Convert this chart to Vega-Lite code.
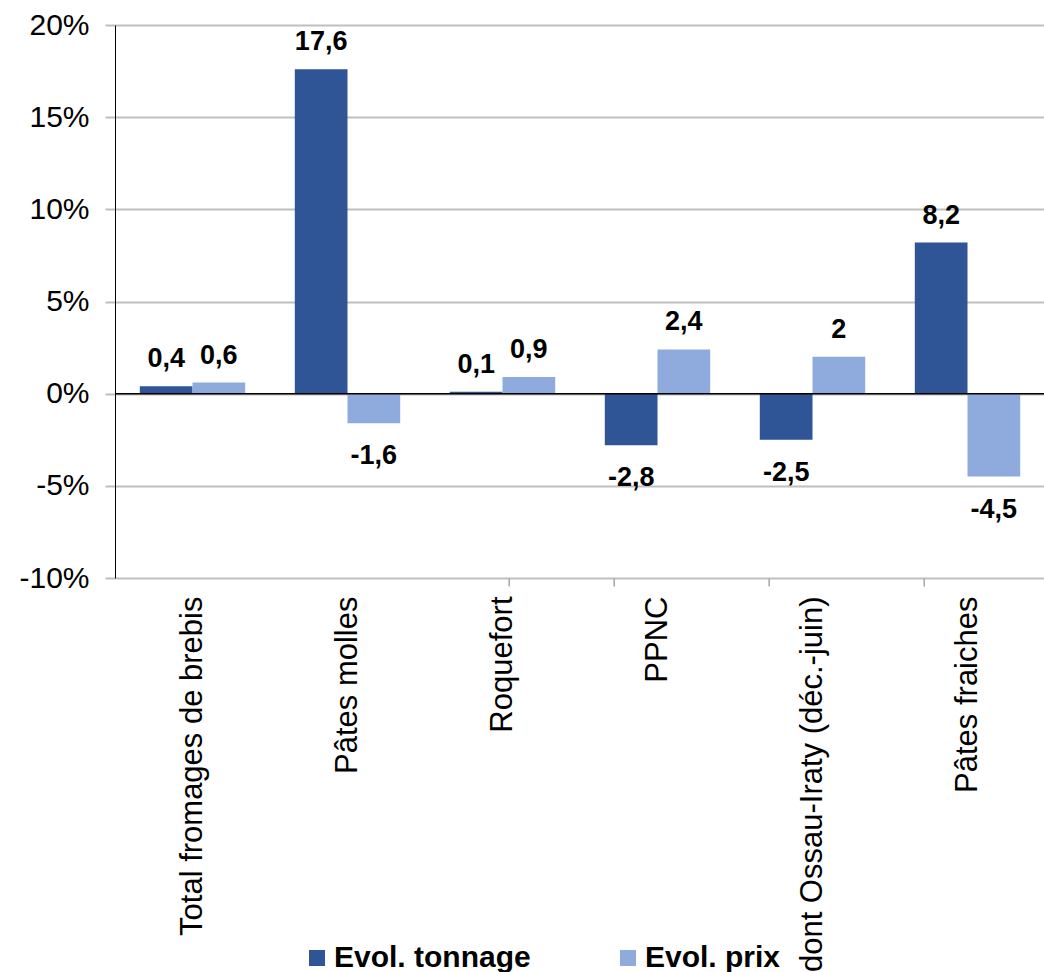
{
  "$schema": "https://vega.github.io/schema/vega-lite/v6.json",
  "width": 930,
  "height": 553,
  "autosize": {"type": "none"},
  "padding": {"left": 115, "top": 25, "right": 0, "bottom": 394},
  "background": "white",
  "config": {
    "locale": {"number": {"decimal": ",", "thousands": " ", "grouping": [3], "currency": ["", ""], "minus": "-", "percent": "%"}},
    "view": {"stroke": null},
    "font": "Liberation Sans"
  },
  "data": {"values": [
    {"cat": "Total fromages de brebis", "serie": "Evol. tonnage", "value": 0.4},
    {"cat": "Total fromages de brebis", "serie": "Evol. prix", "value": 0.6},
    {"cat": "Pâtes molles", "serie": "Evol. tonnage", "value": 17.6},
    {"cat": "Pâtes molles", "serie": "Evol. prix", "value": -1.6},
    {"cat": "Roquefort", "serie": "Evol. tonnage", "value": 0.1},
    {"cat": "Roquefort", "serie": "Evol. prix", "value": 0.9},
    {"cat": "PPNC", "serie": "Evol. tonnage", "value": -2.8},
    {"cat": "PPNC", "serie": "Evol. prix", "value": 2.4},
    {"cat": "dont Ossau-Iraty (déc.-juin)", "serie": "Evol. tonnage", "value": -2.5},
    {"cat": "dont Ossau-Iraty (déc.-juin)", "serie": "Evol. prix", "value": 2},
    {"cat": "Pâtes fraiches", "serie": "Evol. tonnage", "value": 8.2},
    {"cat": "Pâtes fraiches", "serie": "Evol. prix", "value": -4.5}
  ]},
  "resolve": {"axis": {"x": "independent"}},
  "layer": [
    {
      "mark": {"type": "bar"},
      "encoding": {
        "x": {"field": "cat", "type": "nominal", "sort": null,
          "scale": {"paddingInner": 0.32, "paddingOuter": 0.16},
          "axis": {"title": null, "orient": "bottom", "labelAngle": -90, "labelAlign": "right", "labelBaseline": "middle",
            "labelFontSize": 31, "labelColor": "black", "ticks": false, "domain": false, "labelPadding": 18, "labelLimit": 0, "grid": false}},
        "xOffset": {"field": "serie", "sort": ["Evol. tonnage", "Evol. prix"]},
        "y": {"field": "value", "type": "quantitative", "scale": {"domain": [-10, 20], "nice": false},
          "axis": {"title": null, "values": [-10, -5, 0, 5, 10, 15, 20], "format": "d", "labelExpr": "datum.label + '%'",
            "labelFontSize": 30, "labelColor": "black", "tickColor": "#BFBFBF", "tickSize": 10, "tickWidth": 2,
            "domainColor": "black", "domainWidth": 1, "gridColor": "#BFBFBF", "gridWidth": 2, "labelPadding": 16}},
        "color": {"field": "serie", "type": "nominal",
          "scale": {"domain": ["Evol. tonnage", "Evol. prix"], "range": ["#2F5597", "#8FAADC"]},
          "legend": {"orient": "none", "legendX": 187, "legendY": 918, "direction": "horizontal", "title": null,
            "symbolType": "square", "symbolSize": 256, "labelFontSize": 30, "labelFontWeight": "bold", "labelColor": "black",
            "columnPadding": 82, "labelOffset": 2, "symbolStrokeWidth": 0, "labelLimit": 0}}
      }
    },
    {
      "transform": [{"filter": "datum.value >= 0"}],
      "mark": {"type": "text", "baseline": "bottom", "dy": -13, "fontSize": 27, "fontWeight": "bold", "color": "black"},
      "encoding": {
        "x": {"field": "cat", "type": "nominal", "sort": null, "scale": {"paddingInner": 0.32, "paddingOuter": 0.16},
          "axis": {"orient": "bottom", "position": 368.7, "tickBand": "extent", "labels": false, "domain": false, "ticks": true,
            "tickColor": "#A6A6A6", "tickSize": 8, "tickWidth": 1.5, "title": null, "grid": false}},
        "xOffset": {"field": "serie", "sort": ["Evol. tonnage", "Evol. prix"]},
        "y": {"field": "value", "type": "quantitative"},
        "text": {"field": "value", "type": "quantitative", "format": ".1~f"}
      }
    },
    {
      "transform": [{"filter": "datum.value < 0"}],
      "mark": {"type": "text", "baseline": "top", "dy": 20, "fontSize": 27, "fontWeight": "bold", "color": "black"},
      "encoding": {
        "x": {"field": "cat", "type": "nominal", "sort": null, "scale": {"paddingInner": 0.32, "paddingOuter": 0.16}, "axis": null},
        "xOffset": {"field": "serie", "sort": ["Evol. tonnage", "Evol. prix"]},
        "y": {"field": "value", "type": "quantitative"},
        "text": {"field": "value", "type": "quantitative", "format": ".1~f"}
      }
    },
    {
      "data": {"values": [{"v": 0}]},
      "mark": {"type": "rule", "color": "black", "strokeWidth": 1.5},
      "encoding": {"y": {"field": "v", "type": "quantitative"}}
    }
  ]
}
